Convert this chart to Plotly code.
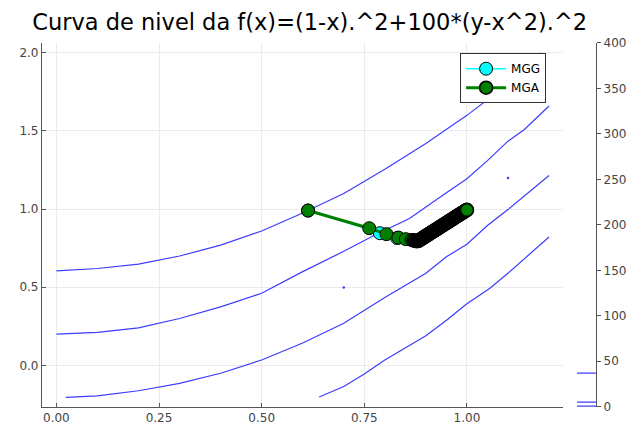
import plotly.graph_objects as go

# ---------------- data ----------------
# contour lines
cA_x = [0.0, 0.1, 0.2, 0.3, 0.4, 0.5, 0.6, 0.7, 0.8, 0.9, 1.0, 1.1, 1.18]
cA_y = [0.605, 0.62, 0.648, 0.70, 0.77, 0.86, 0.975, 1.10, 1.255, 1.42, 1.60, 1.80, 2.0]

cB_x = [0.0, 0.1, 0.2, 0.3, 0.4, 0.5, 0.6, 0.7, 0.776, 0.86, 0.95, 1.0, 1.05, 1.1, 1.14, 1.2]
cB_y = [0.2, 0.212, 0.24, 0.30, 0.375, 0.462, 0.60, 0.73, 0.835, 0.94, 1.105, 1.195, 1.31, 1.435, 1.51, 1.66]

cC_x = [0.023, 0.1, 0.2, 0.3, 0.4, 0.5, 0.6, 0.7, 0.8, 0.9, 0.95, 1.0, 1.05, 1.1, 1.2]
cC_y = [-0.204, -0.195, -0.162, -0.115, -0.05, 0.035, 0.143, 0.27, 0.435, 0.59, 0.695, 0.776, 0.895, 0.997, 1.215]

cD_x = [0.64, 0.7, 0.75, 0.8, 0.9, 0.951, 1.0, 1.056, 1.1, 1.2]
cD_y = [-0.202, -0.135, -0.055, 0.035, 0.19, 0.291, 0.395, 0.494, 0.59, 0.822]

dots_x = [0.7, 1.1]
dots_y = [0.498, 1.2]

levels = [0.5, 5, 37]

# MGG path
mgg_x = [0.613, 0.788, 0.83, 0.87, 0.90, 0.95, 1.0]
mgg_y = [0.991, 0.846, 0.815, 0.80, 0.83, 0.91, 0.995]

# MGA path
mga_x = [0.613, 0.762, 0.804, 0.833, 0.851, 0.865, 0.870, 0.874, 0.878, 0.881,
         0.883, 0.885, 0.887, 0.889, 0.891, 0.893, 0.895, 0.897, 0.899, 0.901,
         0.903, 0.905, 0.907, 0.909, 0.911, 0.913, 0.915, 0.917, 0.919, 0.921,
         0.923, 0.925, 0.927, 0.929, 0.931, 0.933, 0.935, 0.937, 0.939, 0.941,
         0.943, 0.945, 0.947, 0.949, 0.951, 0.953, 0.955, 0.957, 0.959, 0.961,
         0.963, 0.965, 0.967, 0.969, 0.971, 0.973, 0.975, 0.977, 0.979, 0.981,
         0.983, 0.985, 0.987, 0.989, 0.991, 0.993, 0.995, 0.997, 0.999, 1.000]
mga_y = [0.991, 0.878, 0.840, 0.818, 0.808, 0.803, 0.800, 0.797, 0.795, 0.796,
         0.799, 0.803, 0.806, 0.809, 0.813, 0.816, 0.820, 0.823, 0.826, 0.830,
         0.833, 0.836, 0.840, 0.843, 0.846, 0.850, 0.853, 0.856, 0.860, 0.863,
         0.866, 0.870, 0.873, 0.876, 0.880, 0.883, 0.887, 0.890, 0.893, 0.897,
         0.900, 0.903, 0.907, 0.910, 0.913, 0.917, 0.920, 0.923, 0.927, 0.930,
         0.933, 0.937, 0.940, 0.944, 0.947, 0.950, 0.954, 0.957, 0.960, 0.964,
         0.967, 0.970, 0.974, 0.977, 0.980, 0.984, 0.987, 0.990, 0.994, 0.995]

x_ticks = [0.0, 0.25, 0.5, 0.75, 1.0]
x_ticktext = ["0.00", "0.25", "0.50", "0.75", "1.00"]
y_ticks = [0.0, 0.5, 1.0, 1.5, 2.0]
y_ticktext = ["0.0", "0.5", "1.0", "1.5", "2.0"]
cb_ticks = [0, 50, 100, 150, 200, 250, 300, 350, 400]

# ---------------- figure ----------------
FONT = "DejaVu Sans"
CONTOUR_COLOR = "rgb(60,60,255)"
fig = go.Figure()

for cx, cy in [(cA_x, cA_y), (cB_x, cB_y), (cC_x, cC_y), (cD_x, cD_y)]:
    fig.add_trace(go.Scatter(x=cx, y=cy, mode="lines",
                             line=dict(color=CONTOUR_COLOR, width=1.2),
                             showlegend=False, hoverinfo="skip"))
fig.add_trace(go.Scatter(x=dots_x, y=dots_y, mode="markers",
                         marker=dict(color=CONTOUR_COLOR, size=2.5),
                         showlegend=False, hoverinfo="skip"))

fig.add_trace(go.Scatter(x=mgg_x, y=mgg_y, mode="lines+markers", name="MGG",
                         line=dict(color="rgb(0,255,255)", width=1.5),
                         marker=dict(color="rgb(0,255,255)", size=13,
                                     line=dict(color="black", width=1))))
mga_stroke = [1.0 if i < 6 else 1.6 for i in range(len(mga_x))]
fig.add_trace(go.Scatter(x=mga_x, y=mga_y, mode="lines+markers", name="MGA",
                         line=dict(color="green", width=3),
                         marker=dict(color="green", size=13,
                                     line=dict(color="black", width=mga_stroke))))

# colorbar-like level marks
cbx, cby = [], []
for lv in levels:
    cbx += [0, 1, None]
    cby += [lv, lv, None]
fig.add_trace(go.Scatter(x=cbx, y=cby, mode="lines", xaxis="x2", yaxis="y2",
                         line=dict(color=CONTOUR_COLOR, width=1.3),
                         showlegend=False, hoverinfo="skip"))

axis_common = dict(showgrid=True, gridcolor="#ebebeb", gridwidth=1,
                   showline=True, linecolor="#555555", linewidth=1.3,
                   ticks="inside", ticklen=4, tickcolor="#555555",
                   zeroline=False, automargin=False,
                   tickfont=dict(family=FONT, size=12, color="#444444"))

ydom = [0.052, 0.8998]
fig.update_layout(
    width=632, height=429,
    margin=dict(l=0, r=0, t=0, b=0),
    paper_bgcolor="white", plot_bgcolor="white",
    font=dict(family=FONT),
    title=dict(text="Curva de nivel da f(x)=(1-x).^2+100*(y-x^2).^2",
               x=0.49, xanchor="center", y=1 - 22 / 429, yanchor="middle",
               font=dict(family=FONT, size=22.5, color="black")),
    xaxis=dict(domain=[0.0665, 0.8908], range=[-0.035, 1.234],
               tickvals=x_ticks, ticktext=x_ticktext, anchor="y", **axis_common),
    yaxis=dict(domain=ydom, range=[-0.264, 2.063],
               tickvals=y_ticks, ticktext=y_ticktext, anchor="x", **axis_common),
    xaxis2=dict(domain=[0.913, 0.943], range=[0, 1], visible=False, anchor="y2",
                automargin=False),
    yaxis2=dict(domain=ydom, range=[0, 400], anchor="x2", side="right",
                showgrid=False, zeroline=False, showline=True, automargin=False,
                linecolor="#555555", linewidth=1.3, ticks="outside", ticklen=4,
                tickcolor="#555555", tickvals=cb_ticks,
                tickfont=dict(family=FONT, size=12, color="#444444")),
    legend=dict(x=0.728, y=0.876, xanchor="left", yanchor="top",
                bgcolor="white", bordercolor="#333333", borderwidth=1,
                font=dict(family=FONT, size=12, color="black"),
                tracegroupgap=0, itemwidth=40),
)

fig.write_html("out.html")
